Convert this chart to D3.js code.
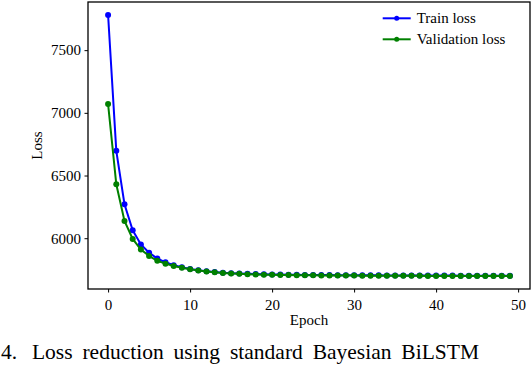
<!DOCTYPE html>
<html>
<head>
<meta charset="utf-8">
<script src="https://cdn.jsdelivr.net/npm/d3@7"></script>
<style>
	body { margin: 0; background: #fff; }
	svg { display: block; }
	svg text { font-family: 'Liberation Serif', 'Times New Roman', Times, serif; fill: #000; }
</style>
</head>
<body>
<svg width="532" height="366"></svg>
<script>
const epochs = d3.range(0, 50)

const trainLoss = [7780, 6697, 6271, 6063, 5950, 5885, 5838, 5808, 5785, 5768,
	5755, 5744, 5736, 5730, 5725, 5721, 5718, 5716, 5714, 5712,
	5711, 5710, 5709, 5708, 5707, 5707, 5706, 5706, 5705, 5705,
	5705, 5704, 5704, 5704, 5703, 5703, 5703, 5703, 5702, 5702,
	5702, 5702, 5702, 5701, 5701, 5701, 5701, 5701, 5701, 5701]

const valLoss = [7070, 6430, 6138, 5994, 5910, 5859, 5820, 5797, 5779, 5765,
	5752, 5742, 5734, 5728, 5723, 5719, 5716, 5713, 5711, 5709,
	5708, 5707, 5706, 5705, 5704, 5704, 5703, 5703, 5702, 5702,
	5702, 5701, 5701, 5701, 5700, 5700, 5700, 5700, 5700, 5699,
	5699, 5699, 5699, 5699, 5699, 5699, 5699, 5699, 5699, 5699]

const xTicks = [0, 10, 20, 30, 40, 50]
const yTicks = [6000, 6500, 7000, 7500]

const seriesNames = ['Train loss', 'Validation loss']
const seriesColors = ['#0000ff', '#008000']

const captionWords = ['4.', 'Loss', 'reduction', 'using', 'standard', 'Bayesian', 'BiLSTM']

const margin = { left: 88, top: 2, right: 2, bottom: 77 },
	width = 532 - margin.left - margin.right,
	height = 366 - margin.top - margin.bottom

// matplotlib style 5% padding
const xPad = (epochs[epochs.length - 1] - epochs[0]) * 0.05
const allVals = trainLoss.concat(valLoss)
const yMin = d3.min(allVals), yMax = d3.max(allVals)
const yPad = (yMax - yMin) * 0.05

const x = d3.scaleLinear()
	.domain([epochs[0] - xPad, epochs[epochs.length - 1] + xPad])
	.range([0, width])

const y = d3.scaleLinear()
	.domain([yMin - yPad, yMax + yPad])
	.range([height, 0])

const svg = d3.select('svg')
const g = svg.append('g')
	.attr('transform', 'translate(' + margin.left + ',' + margin.top + ')')

const xAxis = g.append('g')
	.attr('transform', 'translate(0,' + height + ')')
	.call(d3.axisBottom(x).tickValues(xTicks).tickFormat(d3.format('d'))
		.tickSize(3.5).tickPadding(7).tickSizeOuter(0))
xAxis.select('.domain').remove()

const yAxis = g.append('g')
	.call(d3.axisLeft(y).tickValues(yTicks).tickFormat(d3.format('d'))
		.tickSize(3.5).tickPadding(3.5).tickSizeOuter(0))
yAxis.select('.domain').remove()

g.selectAll('.tick text')
	.attr('font-family', "'Liberation Serif', serif")
	.attr('font-size', 15)
	.attr('fill', '#000')
g.selectAll('.tick line').attr('stroke', '#000').attr('stroke-width', 1)

const series = [trainLoss, valLoss]

const line = d3.line()
	.x((d, i) => x(epochs[i]))
	.y(d => y(d))

series.forEach((vals, s) => {
	g.append('path')
		.datum(vals)
		.attr('fill', 'none')
		.attr('stroke', seriesColors[s])
		.attr('stroke-width', 2)
		.attr('d', line)

	g.append('g')
		.selectAll('circle')
		.data(vals)
		.enter()
		.append('circle')
		.attr('cx', (d, i) => x(epochs[i]))
		.attr('cy', d => y(d))
		.attr('r', 3)
		.attr('fill', seriesColors[s])
})

// frame
g.append('rect')
	.attr('width', width)
	.attr('height', height)
	.attr('fill', 'none')
	.attr('stroke', '#000')
	.attr('stroke-width', 1.3)

// legend
const legend = g.append('g')
	.attr('transform', 'translate(' + (382.7 - margin.left) + ',' + (18.3 - margin.top) + ')')

const item = legend.selectAll('g')
	.data(seriesNames)
	.enter()
	.append('g')
	.attr('transform', (d, i) => 'translate(0,' + i * 21 + ')')

item.append('line')
	.attr('x1', 0)
	.attr('x2', 28)
	.attr('stroke', (d, i) => seriesColors[i])
	.attr('stroke-width', 2)
item.append('circle')
	.attr('cx', 14)
	.attr('r', 2.5)
	.attr('fill', (d, i) => seriesColors[i])
item.append('text')
	.attr('x', 34)
	.attr('y', 5)
	.attr('font-size', 15)
	.text(d => d)

// axis labels
svg.append('text')
	.attr('x', margin.left + width / 2)
	.attr('y', 324.5)
	.attr('text-anchor', 'middle')
	.attr('font-size', 15)
	.text('Epoch')

svg.append('text')
	.attr('transform', 'translate(41.5,' + (margin.top + height / 2) + ') rotate(-90)')
	.attr('text-anchor', 'middle')
	.attr('font-size', 15)
	.text('Loss')

// caption, justified between 1 and 479
const cap = svg.append('g')
	.selectAll('text')
	.data(captionWords)
	.enter()
	.append('text')
	.attr('y', 359)
	.attr('font-size', 21.5)
	.text(d => d)

const widths = cap.nodes().map(n => n.getComputedTextLength())
const extraFirst = 5
const gap = (478 - d3.sum(widths) - extraFirst) / (captionWords.length - 1)
let cx = 1
cap.attr('x', (d, i) => {
	const pos = cx
	cx += widths[i] + gap + (i === 0 ? extraFirst : 0)
	return pos
})
</script>
</body>
</html>
